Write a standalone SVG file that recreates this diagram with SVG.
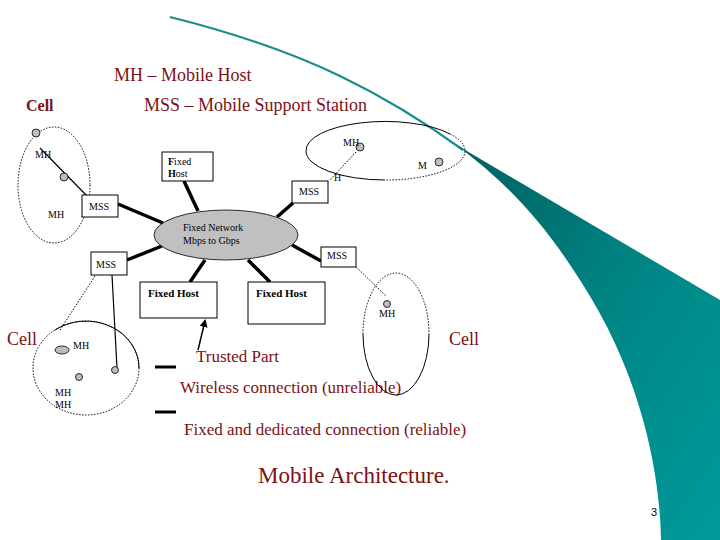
<svg xmlns="http://www.w3.org/2000/svg" width="720" height="540" viewBox="0 0 720 540">
<style>
.lbl{font-family:"Liberation Serif",serif;fill:#7b1113}
.sm{font-family:"Liberation Serif",serif;font-size:10px;fill:#000}
.box{fill:#fff;stroke:#000;stroke-width:1}
.thick{stroke:#000;stroke-width:3.5;fill:none}
.thin{stroke:#000;stroke-width:1.2;fill:none}
.dot{stroke:#000;stroke-width:1;stroke-dasharray:1.5 1.5;fill:none}
.cellsolid{stroke:#000;stroke-width:1;fill:none}
.host{fill:#bdbdbd;stroke:#000;stroke-width:0.8}
</style>
<defs>
<linearGradient id="teal" x1="0" y1="0" x2="1" y2="1">
<stop offset="0" stop-color="#005f5f"/>
<stop offset="0.5" stop-color="#008585"/>
<stop offset="1" stop-color="#009a9a"/>
</linearGradient>
<marker id="arr" markerWidth="8" markerHeight="8" refX="6" refY="4" orient="auto" markerUnits="userSpaceOnUse">
<path d="M0,0 L8,4 L0,8 z" fill="#000"/>
</marker>
</defs>
<g id="decor">
<path d="M170,17 C230,32 290,52 340,76 C390,100 430,126 463,150" fill="none" stroke="#1a8c8c" stroke-width="2.2"/>
<path d="M455,144 L720,300 L720,540 L661,540 C660,480 645,380 580,280 C545,225 510,185 455,144 z" fill="url(#teal)"/>
</g>
<g id="texts">
<text class="lbl" x="114" y="81" font-size="18">MH – Mobile Host</text>
<text class="lbl" x="26" y="111" font-size="16" font-weight="bold">Cell</text>
<text class="lbl" x="144" y="111" font-size="18">MSS – Mobile Support Station</text>
<text class="lbl" x="7" y="345" font-size="18">Cell</text>
<text class="lbl" x="449" y="345" font-size="18">Cell</text>
<text class="lbl" x="196" y="362" font-size="17">Trusted Part</text>
<text class="lbl" x="180" y="393" font-size="17">Wireless connection (unreliable)</text>
<text class="lbl" x="184" y="435" font-size="17">Fixed and dedicated connection (reliable)</text>
<text class="lbl" x="258" y="483" font-size="23">Mobile Architecture.</text>
<text x="651" y="516" font-family="Liberation Sans,sans-serif" font-size="11" fill="#000">3</text>
</g>
<g id="connectors">
<line class="thin" x1="40" y1="148" x2="88" y2="197"/>
<line class="thick" x1="118" y1="204" x2="163" y2="223"/>
<line class="thick" x1="184" y1="181" x2="198" y2="211"/>
<line class="thick" x1="277" y1="217" x2="293" y2="203"/>
<line class="dot" x1="356" y1="152" x2="330" y2="180"/>
<line class="thick" x1="127" y1="260" x2="162" y2="246"/>
<line class="thick" x1="205" y1="260" x2="190" y2="282"/>
<line class="thick" x1="248" y1="260" x2="270" y2="282"/>
<line class="thick" x1="292" y1="245" x2="321" y2="261"/>
<line class="dot" x1="350" y1="261" x2="386" y2="296"/>
<line class="dot" x1="95" y1="276" x2="60" y2="330"/>
<path class="thin" d="M112,275 L117,368 Q117,372 113,372"/>
<line stroke="#000" stroke-width="1.5" x1="198" y1="350" x2="205" y2="321" marker-end="url(#arr)"/>
<line stroke="#000" stroke-width="3" x1="155" y1="367" x2="176" y2="367"/>
<line stroke="#000" stroke-width="3" x1="155" y1="412" x2="176" y2="412"/>
</g>
<g id="cell-left">
<ellipse class="dot" cx="54" cy="185" rx="36" ry="58"/>
<circle class="host" cx="36" cy="133" r="4"/>
<circle class="host" cx="64" cy="177" r="4"/>
<text class="sm" x="35" y="158">MH</text>
<text class="sm" x="48" y="218">MH</text>
</g>
<g id="cell-top">
<path class="cellsolid" d="M306,151 A79,29 0 0 1 450,134"/>
<path class="dot" d="M450,134 A79,29 0 0 1 385,180"/>
<path class="cellsolid" d="M385,180 A79,29 0 0 1 306,151"/>
<circle class="host" cx="360" cy="147" r="4"/>
<circle class="host" cx="439" cy="162" r="4"/>
<text class="sm" x="343" y="146">MH</text>
<text class="sm" x="418" y="169">M</text>
<text class="sm" x="334" y="181">H</text>
</g>
<g id="cell-right">
<path class="dot" d="M363,334 A33,61 0 0 1 429,334"/>
<path class="cellsolid" d="M429,334 A33,61 0 0 1 363,334"/>
<circle class="host" cx="387" cy="304" r="3.5"/>
<text class="sm" x="379" y="317">MH</text>
</g>
<g id="cell-bottom">
<ellipse class="dot" cx="86" cy="368" rx="53" ry="47"/>
<path class="cellsolid" d="M55,330 A53,47 0 0 1 139,368"/>
<ellipse class="host" cx="62" cy="350" rx="7" ry="4"/>
<circle class="host" cx="79" cy="377" r="3.5"/>
<circle class="host" cx="115" cy="370" r="3.5"/>
<text class="sm" x="73" y="349">MH</text>
<text class="sm" x="55" y="396">MH</text>
<text class="sm" x="55" y="408">MH</text>
</g>
<g id="network">
<ellipse cx="226" cy="235" rx="72" ry="25" fill="#c0c0c0" stroke="#000" stroke-width="0.8"/>
<text class="sm" x="183" y="231">Fixed Network</text>
<text class="sm" x="183" y="244">Mbps to Gbps</text>
</g>
<g id="fixedhost-small">
<rect class="box" x="162" y="152" width="51" height="29"/>
<text class="sm" x="168" y="165"><tspan font-weight="bold">F</tspan>ixed</text>
<text class="sm" x="168" y="177"><tspan font-weight="bold">H</tspan>ost</text>
</g>
<g id="mss-left-top">
<rect class="box" x="82" y="195" width="36" height="22"/>
<text class="sm" x="89" y="210">MSS</text>
</g>
<g id="mss-right-top">
<rect class="box" x="292" y="181" width="36" height="22"/>
<text class="sm" x="299" y="195">MSS</text>
</g>
<g id="mss-left-bottom">
<rect class="box" x="91" y="252" width="36" height="23"/>
<text class="sm" x="96" y="268">MSS</text>
</g>
<g id="mss-right-bottom">
<rect class="box" x="321" y="247" width="35" height="20"/>
<text class="sm" x="327" y="259">MSS</text>
</g>
<g id="fixedhost-1">
<rect class="box" x="140" y="282" width="77" height="36"/>
<text x="148" y="297" font-family="Liberation Serif,serif" font-size="11" font-weight="bold">Fixed Host</text>
</g>
<g id="fixedhost-2">
<rect class="box" x="248" y="282" width="77" height="42"/>
<text x="256" y="297" font-family="Liberation Serif,serif" font-size="11" font-weight="bold">Fixed Host</text>
</g>
</svg>
